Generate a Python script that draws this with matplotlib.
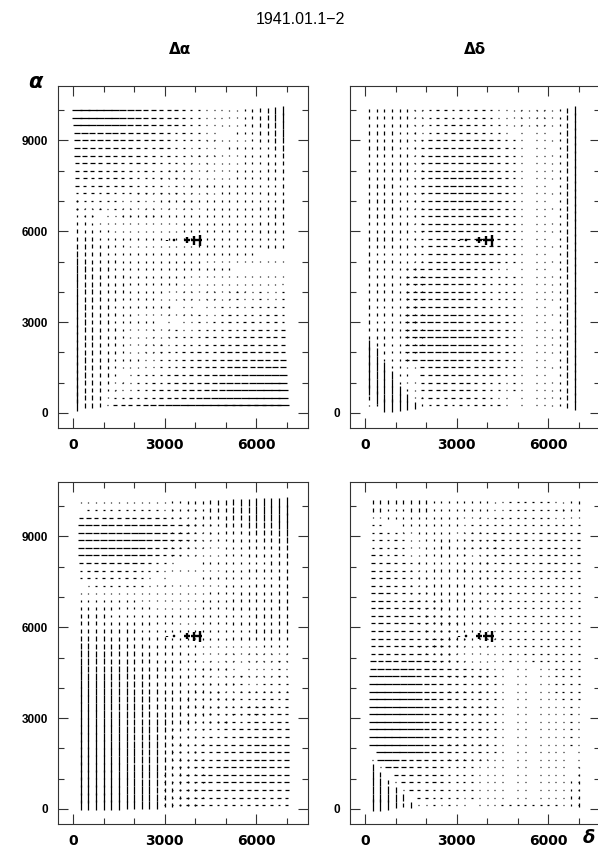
"""Plate difference maps 1941.01.1-2 : cross marks on a measuring grid."""

import numpy as np
import matplotlib
matplotlib.use("Agg")
import matplotlib.pyplot as plt
from matplotlib.collections import LineCollection
from matplotlib.ticker import MultipleLocator

# measuring grid (top row first)
x_top = np.arange(125, 7000, 250)      # 28 columns, upper panels
y_top = np.arange(10000, 0, -250)      # 40 rows
x_bot = np.arange(250, 7001, 250)      # 28 columns, lower panels
y_bot = np.arange(10125, 0, -250)      # 41 rows

# mark lengths, one base-36 digit per grid point
h_1 = [
    "gfeddcba98876543321000000000", "feddcbaa98776543321000000000",
    "ddccbba998766543221000000000", "aa99988877665443211000000000",
    "9988877766655433211000000000", "8887776665554332211000000000",
    "8877766655544332211000000000", "7776665554443322110000000000",
    "6665555444333222110000000000", "6655554443332221100000000000",
    "5555444433332221110000000000", "4444433333222211110000000000",
    "3333322222211111100000000000", "2222222111111111000000000000",
    "1111111111110000000000000000", "0000000000000000000000000000",
    "0000000000000000000000000000", "0000000000000000000000000000",
    "0000000000000000000000000000", "0000000000000000000000000000",
    "0000000000000000000000000000", "0000000000000000000000000000",
    "0000000000000000000000000000", "0000000000000000000000000000",
    "0000000000000011111112222222", "0000000000000111111122222222",
    "0000000000001111112222233333", "0000000000011112222333334444",
    "0000000000011122223333444444", "0000000000111222333444455555",
    "0000000000112233344455566666", "0000000001122333444555666666",
    "0000000011223344555666777777", "0000000011223344556677788888",
    "0000000012233445566778889999", "0000000123344556677889aabbcc",
    "00000012334455667789aabbccdd", "0000012233455667789aabbccdde",
    "00000334455667789aabbccddeef", "00000566789abbccddeeffgghhhh",
]
v_1 = [
    "00000000000000000000123568be", "00000000000000000000123468ad",
    "000000000000000000011234679c", "000000000000000000111234568b",
    "0000000000000000011112234579", "0000000000000000111122233468",
    "0000000000000001111222333457", "0000000000000011112222333456",
    "0000000000001111122223333456", "0000000000011111222223333445",
    "0000000000111112222233333445", "0000000011111222222333333445",
    "2100001111122222223333333445", "3211001112222222233333334455",
    "4321112222222223333333334455", "5432222222222233333333334455",
    "6543322222222233333333334444", "7654332222222223333333334444",
    "8765433222222222333333333444", "a765443333333333322222221111",
    "b765443333333333322222211111", "b876544333333333222221111111",
    "c876544333333332222211111111", "c876544333333322221111111110",
    "c876544333332222111111100000", "d876543333322221111110000000",
    "d876543332222111110000000000", "d876543322221111000000000000",
    "e876543322211110000000000000", "e876543222111000000000000000",
    "f876543222111000000000000000", "f876543221110000000000000000",
    "f876543221110000000000000000", "g876543221100000000000000000",
    "g876532110000000000000000000", "g876521000000000000000000000",
    "h876421000000000000000000000", "h876310000000000000000000000",
    "h876100000000000000000000000", "i876000000000000000000000000",
]
h_2 = [
    "0000001134444444321111110000", "0000001134444444321111110000",
    "0000001245555555432111110000", "0000001245555555432111110000",
    "0000001356666666543211110000", "0000001467777777654311110000",
    "0000001467777777654311110000", "0000001467777777654311110000",
    "0000001467777777654311110000", "0000001578888888765411110000",
    "0000001578888888765411110000", "0000001578888888765411110000",
    "0000001578888888765411110000", "0000001467777777654311110000",
    "0000001467777777654311110000", "0000001467777777654311110000",
    "0000001467777777654311110000", "0000001356666666543211110000",
    "0000001356666666543211110000", "0000001356666666543211110000",
    "0000001356666666543211110000", "0000035666666544322111111000",
    "0000046777777655433221111000", "0000046777777655433221111000",
    "0000046777777655433221111000", "0000046777777655433221111000",
    "0000046777777655433221111000", "0000057888888766544321111000",
    "0000057888888766544321111000", "0000057888888766544321111000",
    "0000068999999877655421111000", "0000068999999877655421111000",
    "0000068999999877655421111000", "0000057888888766544321111000",
    "0000000677777765543321111000", "0000000677777765543321111000",
    "0000000566666654432211111000", "0000000566666654432211111000",
    "0000000355555544321111111000", "0000000004444444442111111000",
]
v_2 = [
    "555544210000000000011111138e", "555544210000000000011111138e",
    "555544210000000000011111138e", "555544210000000000011111138e",
    "555544210000000000000000138e", "555544210000000000000000138e",
    "555544210000000000000000138e", "555544210000000000000000138e",
    "555544210000000000000000138e", "555544210000000000000000138e",
    "555544210000000000000000138e", "555544210000000000000000138e",
    "555544210000000000000000138e", "555544210000000000000000138e",
    "555544210000000000000000138e", "555544210000000000000000138e",
    "555544210000000000000000138e", "555544210000000000000000138e",
    "555544210000000000000000138e", "544433210000000000000000138e",
    "544433210000000000000000138e", "544433210000000000000000138e",
    "544433210000000000000000138e", "544433210000000000000000138e",
    "544433210000000000000000138e", "544433210000000000000000138e",
    "544433210000000000000000138e", "544433210000000000000000138e",
    "544433210000000000000000138e", "544433210000000000000000138e",
    "544333210000000000000000138e", "f54332110000000000000000138e",
    "fc4332100000000000000000138e", "fc3332100000000000000000138e",
    "fcf332100000000000000000138e", "fcfc32100000000000000000138e",
    "fccc32100000000000000000138e", "fccce3200000000000000000138e",
    "6kcccc210000000000000000138e", "23kkgeb30000000000000000138e",
]
h_3 = [
    "0000000000000000000000000000", "1333333333322111000000000000",
    "5666666666543211000000000000", "8999999999876543210000000000",
    "9aaaaaaaa9876543210000000000", "9aaaaaaaa9876543210000000000",
    "9aaaaaaa98765432100000000000", "8999999987654321000000000000",
    "6777777765432100000000000000", "4555555543210000000000000000",
    "3444444432100000000000000000", "1123333332110000000000000000",
    "0000000000000000000000000000", "0000000000000000000000000000",
    "0000000000000000000000000000", "0000000000000000000000000000",
    "0000000000000000000000000000", "0000000000000000000000000000",
    "0000000000000000000000000000", "0000000000000000000000000000",
    "0000000000000000001111111111", "0000000000000000011111112222",
    "0000000000000000111111222222", "0000000000000000111122222222",
    "0000000000000001111222223333", "0000000000000001112222333333",
    "0000000000000011122233334444", "0000000000000011222333444444",
    "0000000000000112233344455555", "0000000000000112233444555555",
    "0000000000001122334455566666", "0000000000001122344556666666",
    "0000000000001223445566677777", "0000000000001223455667777777",
    "0000000000001234556677777777", "0000000000001234566777777777",
    "0000000000012345667777777777", "0000000000012345667777777777",
    "0000000000012345666666666666", "0000000000012345555555555555",
    "0000000000012344444444444444",
]
v_3 = [
    "222222222222334456789abccdef", "1111111111112233456789abbcde",
    "00000000000012234456789aabcd", "0000000000001122334567889abc",
    "000000000000111223345567789b", "0000000000001112223344556679",
    "0000000000001111222333445568", "0000000000001111222333444567",
    "0000000000001111222333444567", "0000000000001111222333444456",
    "0000000000001111222233344456", "0000000000111112222333344456",
    "2222222222222222233334445566", "3333333322222222333344455566",
    "4444433333222222333344455566", "5555444433332222333344455566",
    "6665555444333222333344455566", "7766655544433322333344455556",
    "8877666555443332333344445555", "9988776665544333222222223333",
    "aa99887766554433222222222222", "ba99887766554433222222111111",
    "baa9988776655443322211111111", "cbbaaa9877655443322211111111",
    "ccbbaa9887665544332221111111", "dcbbaaa988766554433221111111",
    "dccbbaa998776654433221111110", "dccbbaaa98876654433221111100",
    "ddccbbaa99877654432211111000", "ddccbbaaa9887654432211110000",
    "eddccbbaaa975432100000000000", "eddccbbaaa975432100000000000",
    "eeddccbbaaa75432100000000000", "eeddccbbaaa75432100000000000",
    "feddccbbaaa75432100000000000", "feeddccbbaa75432100000000000",
    "feeddccbbaa75432100000000000", "ffeeddccbba75432100000000000",
    "ffeeddccbba75432100000000000", "ffeeddccbba75432100000000000",
    "ggffeeddccb75432100000000000",
]
h_4 = [
    "0000000000000000013333332000", "0000000000000000113333333200",
    "0000000000000011333333332100", "3310000000001233333333333333",
    "4443100000001233444444444444", "4444310000001233444444444444",
    "4444310000001233444444444444", "5444310000001123344444444444",
    "5554421000001123344444444444", "5555421000001123333334444444",
    "5555432100000112333333333333", "6555432100000112333333333333",
    "6655543210000112333333333333", "6665554321000112233333333333",
    "6666555432100112233333333333", "6666655543210112233333333333",
    "6666655543210112233333333333", "6666655543210112233333333333",
    "6666665554321011233333333333", "6666666554321011222333333333",
    "6666666543210000122233333333", "8888887765432100112223333333",
    "aaaaa87766554433211111223333", "bbbbbb8776655443321111223333",
    "ccccbbb776655443321111223333", "ccccccb776655443321111223333",
    "ddccccb776655443321111222333", "ddccccc776655443321111222222",
    "dddcccc776655443321111222222", "dddcccc776655443321111122222",
    "ddddccc776655443321111122222", "ddddccc776655443321111112222",
    "ddddccc776655443321111111222", "1cccccc776655443321111111111",
    "0bbb87766554433221111111111 1", "0188776554433221111111111111",
    "0016666554433221111111111111", "0001665554433221111111111111",
    "0000155444333222211111111111", "0000014443332222111111111111",
    "0000001222211122233333333111",
]
v_4 = [
    "6666666633333333200000000234", "5533355522222222100000000234",
    "2233333333332210000000000011", "0011333322221110000000000000",
    "0000113333322110000000000000", "0000012334433221100000000000",
    "0000012334433221100000000000", "0000012334433221100000000000",
    "0000012344444332110000000000", "0000012344444332110000000000",
    "0000012344444332110000000000", "0000012344444332110000000000",
    "0000012344444332110000000000", "0000001234444332110000000000",
    "0000001234444332110000000000", "0000001234444332110000000000",
    "0000001234444332110000000000", "0000001234443321100000000000",
    "0000000123443322100000000000", "0000001233332211000000000000",
    "0000000123322110000000000000", "0000000012322111000000000000",
    "0000000000111111000000000000", "0000000000111111000000000000",
    "0000000000111111000000000000", "0000000000111111000000000000",
    "0000000000111111000000000000", "0000000000111111000000000000",
    "0000000000111111000000000000", "0000000000111111000000000000",
    "0000000000111111000000000000", "0000000000111111000000000000",
    "0000000000111111000000000000", "0000000000111111000000000000",
    "0000000000111111000000000000", "a000000000000000000000000002",
    "c800000000000000000000000003", "cc60000000000000000000000034",
    "ccc8000000000000000000000034", "cccca00000000000000000000045",
    "iiea680000000000000000000045",
]

# scale key drawn in every panel
key_x = [3070, 3310, 3730, 3950, 4145]
key_y = 5700
key_h = [1, 3, 10, 9, 8]
key_v = [1, 3, 9, 13, 16]

UNIT = 22.0     # data units per level
DOT = 40.0


def _levels(rows, nrow, ncol):
    out = np.zeros((nrow, ncol))
    for i, row in enumerate(rows[:nrow]):
        row = row.replace(" ", "")
        vals = [int(ch, 36) for ch in row[:ncol]]
        out[i, :len(vals)] = vals
    return out


def draw_field(ax, xs, ys, h_rows, v_rows):
    h = _levels(h_rows, len(ys), len(xs)) * UNIT
    v = _levels(v_rows, len(ys), len(xs)) * UNIT
    X, Y = np.meshgrid(xs, ys)
    segs = []
    for x, y, a, b in zip(X.ravel(), Y.ravel(), h.ravel(), v.ravel()):
        if a == 0 and b == 0:
            a = DOT
        if a > 0:
            segs.append([(x - a / 2, y), (x + a / 2, y)])
        if b > 0:
            segs.append([(x, y - b / 2), (x, y + b / 2)])
    ax.add_collection(LineCollection(segs, colors="black", linewidths=0.9,
                                     capstyle="butt"))
    # scale key
    ksegs = []
    for x, a, b in zip(key_x, key_h, key_v):
        a, b = a * UNIT, b * UNIT
        ksegs.append([(x - a / 2, key_y), (x + a / 2, key_y)])
        ksegs.append([(x, key_y - b / 2), (x, key_y + b / 2)])
    ax.add_collection(LineCollection(ksegs, colors="black", linewidths=1.7,
                                     capstyle="butt"))


def style_axes(ax, left_labels):
    ax.set_xlim(-500, 7700)
    ax.set_ylim(-500, 10800)
    ax.set_xticks([0, 3000, 6000])
    ax.set_yticks([0, 3000, 6000, 9000])
    ax.xaxis.set_minor_locator(MultipleLocator(1000))
    ax.yaxis.set_minor_locator(MultipleLocator(1000))
    if not left_labels:
        ax.set_yticklabels(["0", "", "", ""])
    ax.tick_params(which="both", direction="in", top=True, right=True,
                   width=0.8, color="#333333", pad=7)
    ax.tick_params(which="major", length=7)
    ax.tick_params(which="minor", length=4.5)
    for lab in ax.get_xticklabels():
        lab.set_fontfamily("DejaVu Sans")
        lab.set_fontweight("bold")
        lab.set_fontsize(10)
    for lab in ax.get_yticklabels():
        lab.set_fontfamily("Liberation Sans")
        lab.set_fontweight("bold")
        lab.set_fontsize(8.5)
    for sp in ax.spines.values():
        sp.set_linewidth(0.8)
        sp.set_color("#333333")


fig = plt.figure(figsize=(5.98, 8.47), dpi=100)
W, H = 250 / 598, 342 / 847
panels = [
    ([58 / 598, 1 - 428 / 847, W, H], x_top, y_top, h_1, v_1, True),
    ([350 / 598, 1 - 428 / 847, W, H], x_top, y_top, h_2, v_2, False),
    ([58 / 598, 1 - 824 / 847, W, H], x_bot, y_bot, h_3, v_3, True),
    ([350 / 598, 1 - 824 / 847, W, H], x_bot, y_bot, h_4, v_4, False),
]
for rect, xs, ys, hr, vr, lab in panels:
    ax = fig.add_axes(rect)
    draw_field(ax, xs, ys, hr, vr)
    style_axes(ax, lab)

fig.text(300 / 598, 1 - 19 / 847, "1941.01.1\u22122", ha="center", va="center",
         fontsize=11.5, family="Liberation Sans")
fig.text(180 / 598, 1 - 50 / 847, "\u0394\u03b1", ha="center", va="center",
         fontsize=11, fontweight="bold", family="DejaVu Sans")
fig.text(475 / 598, 1 - 50 / 847, "\u0394\u03b4", ha="center", va="center",
         fontsize=11, fontweight="bold", family="DejaVu Sans")
fig.text(35 / 598, 1 - 82 / 847, "\u03b1", ha="center", va="center",
         fontsize=15, style="italic", fontweight="bold", family="DejaVu Sans")
fig.text(589 / 598, 1 - 838 / 847, "\u03b4", ha="center", va="center",
         fontsize=13, style="italic", fontweight="bold", family="DejaVu Sans")

fig.savefig("out.png", dpi=100)
